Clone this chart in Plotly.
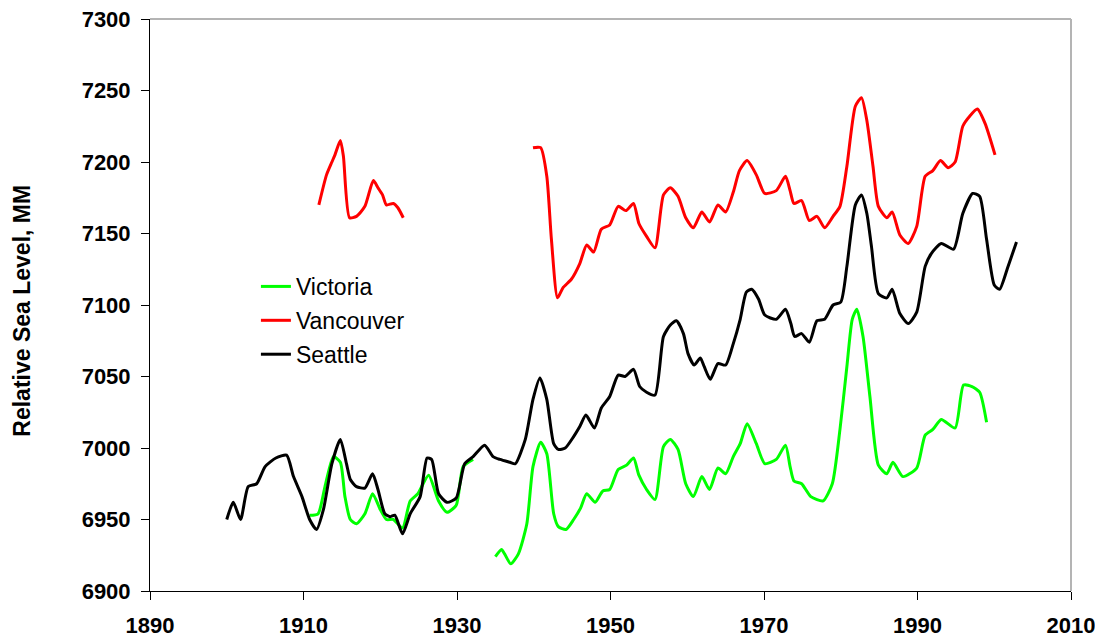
import plotly.graph_objects as go

# yearly smoothed relative sea level, mm
victoria_years = [1910.8, 1911.9, 1912.8, 1913.9, 1914.8, 1915.4, 1916.1, 1916.9, 1918.0, 1919.0,
                  1920.0, 1920.8, 1921.7, 1922.9, 1923.9, 1924.9, 1926.3, 1927.6, 1928.7, 1929.9,
                  1930.8, 1932.1, None,
                  1935.0, 1935.8, 1936.2, 1937.0, 1938.0, 1939.1, 1939.9, 1940.9, 1941.7, 1942.6,
                  1943.2, 1944.2, 1945.2, 1946.1, 1946.9, 1948.0, 1949.0, 1949.9, 1951.0, 1952.1,
                  1953.0, 1953.7, 1954.7, 1955.8, 1956.9, 1957.8, 1958.8, 1959.8, 1960.8, 1961.9,
                  1962.9, 1964.0, 1965.0, 1966.0, 1966.9, 1967.8, 1969.0, 1970.1, 1971.6, 1972.8,
                  1973.4, 1973.9, 1974.9, 1976.1, 1977.7, 1978.9, 1979.9, 1980.8, 1981.5, 1982.1,
                  1982.9, 1983.8, 1984.9, 1986.0, 1986.8, 1988.1, 1989.9, 1991.0, 1992.0, 1993.1,
                  1994.9, 1996.0, 1997.1, 1998.1, 1999.0]
victoria_mm = [6953, 6954, 6973, 6994, 6990, 6966, 6950, 6947, 6954, 6968,
               6957, 6950, 6950, 6944, 6963, 6968, 6981, 6963, 6955, 6960,
               6987, 6992, None,
               6924, 6929, 6926, 6919, 6926, 6947, 6987, 7004, 6996, 6954,
               6945, 6943, 6950, 6958, 6968, 6962, 6970, 6971, 6985, 6988,
               6993, 6981, 6971, 6964, 7001, 7006, 6999, 6975, 6966, 6980,
               6971, 6986, 6982, 6994, 7003, 7017, 7003, 6989, 6992, 7002,
               6987, 6977, 6975, 6966, 6963, 6975, 7013, 7057, 7090, 7097,
               7078, 7036, 6988, 6982, 6990, 6980, 6986, 7009, 7013, 7020,
               7014, 7044, 7043, 7039, 7018]

vancouver_years = [1912.0, 1913.0, 1913.7, 1914.1, 1914.8, 1915.2, 1916.0, 1916.9, 1918.0, 1919.1,
                   1919.7, 1920.3, 1920.8, 1921.7, 1922.3, 1923.0, None,
                   1939.9, 1940.9, 1941.7, 1942.3, 1943.1, 1943.8, 1944.9, 1946.0, 1946.9, 1947.8,
                   1948.8, 1949.9, 1951.0, 1952.0, 1953.0, 1953.7, 1954.7, 1955.8, 1956.9, 1957.8,
                   1958.8, 1959.8, 1960.8, 1961.9, 1962.9, 1964.0, 1965.0, 1966.0, 1966.8, 1967.8,
                   1969.0, 1970.1, 1971.6, 1972.8, 1973.4, 1973.9, 1974.9, 1975.9, 1976.9, 1977.9,
                   1979.0, 1979.9, 1980.8, 1981.9, 1982.7, 1983.4, 1984.2, 1984.9, 1986.0, 1986.7,
                   1987.7, 1988.8, 1989.9, 1991.0, 1992.0, 1993.0, 1994.0, 1994.9, 1995.9, 1996.8,
                   1997.8, 1998.8, 2000.1]
vancouver_mm = [7170, 7191, 7200, 7205, 7215, 7204, 7161, 7162, 7169, 7187,
                7182, 7177, 7170, 7171, 7168, 7161, None,
                7210, 7210, 7190, 7146, 7105, 7112, 7118, 7129, 7142, 7137,
                7153, 7156, 7169, 7166, 7171, 7157, 7148, 7140, 7177, 7182,
                7176, 7161, 7154, 7165, 7158, 7170, 7165, 7179, 7194, 7201,
                7191, 7178, 7180, 7190, 7180, 7171, 7173, 7159, 7162, 7154,
                7162, 7169, 7197, 7239, 7245, 7229, 7197, 7169, 7161, 7165,
                7149, 7143, 7155, 7190, 7194, 7201, 7196, 7200, 7225, 7232,
                7237, 7227, 7205]

seattle_years = [1900.0, 1900.85, 1901.8, 1902.8, 1903.9, 1905.0, 1906.4, 1907.8, 1908.7, 1909.8,
                 1910.8, 1911.7, 1912.6, 1913.7, 1914.8, 1915.6, 1916.1, 1916.9, 1918.0, 1919.0,
                 1919.7, 1920.6, 1921.3, 1921.9, 1922.9, 1923.9, 1925.2, 1926.1, 1926.7, 1927.6,
                 1928.7, 1929.9, 1931.0, 1932.1, 1933.6, 1934.7, 1935.6, 1936.9, 1937.6, 1938.9,
                 1939.9, 1940.8, 1941.7, 1942.6, 1943.2, 1944.1, 1945.2, 1946.0, 1946.8, 1947.9,
                 1948.8, 1949.9, 1951.0, 1951.9, 1953.0, 1953.8, 1954.7, 1955.8, 1956.9, 1957.8,
                 1958.6, 1959.5, 1960.1, 1960.9, 1961.7, 1962.2, 1963.0, 1964.0, 1965.0, 1966.0,
                 1966.9, 1967.7, 1968.4, 1969.3, 1970.1, 1971.6, 1972.8, 1973.5, 1974.0, 1974.9,
                 1975.9, 1976.9, 1977.9, 1979.0, 1980.0, 1980.8, 1981.9, 1982.7, 1983.4, 1984.0,
                 1984.9, 1986.0, 1986.7, 1987.7, 1988.8, 1989.9, 1991.0, 1991.8, 1993.1, 1994.7,
                 1995.9, 1997.2, 1998.1, 1999.0, 2000.0, 2000.7, 2001.8, 2002.9]
seattle_mm = [6950, 6962, 6950, 6973, 6975, 6987, 6993, 6995, 6980, 6966,
              6950, 6943, 6957, 6989, 7006, 6989, 6978, 6973, 6972, 6982,
              6971, 6954, 6952, 6953, 6940, 6954, 6966, 6993, 6992, 6968,
              6962, 6965, 6989, 6994, 7002, 6994, 6992, 6990, 6989, 7006,
              7034, 7049, 7034, 7003, 6999, 7000, 7008, 7015, 7023, 7014,
              7028, 7036, 7051, 7050, 7055, 7043, 7039, 7037, 7078, 7086,
              7089, 7080, 7066, 7058, 7063, 7057, 7048, 7059, 7058, 7073,
              7090, 7109, 7111, 7104, 7093, 7090, 7097, 7087, 7078, 7080,
              7074, 7089, 7090, 7100, 7102, 7127, 7170, 7177, 7164, 7141,
              7108, 7105, 7111, 7094, 7087, 7095, 7127, 7136, 7143, 7139,
              7164, 7178, 7176, 7146, 7114, 7111, 7127, 7144]

year_ticks = [1890, 1910, 1930, 1950, 1970, 1990, 2010]
level_ticks = [6900, 6950, 7000, 7050, 7100, 7150, 7200, 7250, 7300]

FONT = "Liberation Sans, Arial, sans-serif"

fig = go.Figure()
series = [
    ("Victoria", victoria_years, victoria_mm, "#00ff00"),
    ("Vancouver", vancouver_years, vancouver_mm, "#ff0000"),
    ("Seattle", seattle_years, seattle_mm, "#000000"),
]
for name, xs, ys, color in series:
    fig.add_scatter(
        x=xs, y=ys, name=name, mode="lines", legendgroup=name,
        line={"color": color, "width": 3, "shape": "spline", "smoothing": 0.6},
        connectgaps=False,
    )

axis_common = dict(
    showgrid=False, zeroline=False, showline=True, linecolor="black", linewidth=1,
    ticks="outside", ticklen=8, tickcolor="black", tickwidth=1,
    tickfont={"family": FONT, "size": 22, "color": "black", "weight": "bold"},
    automargin=False, ticklabeloverflow="allow",
)
fig.update_xaxes(range=[1890, 2010], tickvals=year_ticks, ticklabelstandoff=7, **axis_common)
fig.update_yaxes(range=[6900, 7300], tickvals=level_ticks, ticklabelstandoff=6, **axis_common)

# grey frame on top / right like the original
fig.add_shape(type="line", xref="paper", yref="paper", x0=0, x1=1, y0=1, y1=1,
              line={"color": "#b4b4b4", "width": 2}, layer="below")
fig.add_shape(type="line", xref="paper", yref="paper", x0=1, x1=1, y0=0, y1=1,
              line={"color": "#b4b4b4", "width": 2}, layer="below")

fig.add_annotation(
    text="Relative Sea Level, MM", textangle=-90, xref="paper", yref="paper",
    x=-0.139, y=0.49, xanchor="center", yanchor="middle", showarrow=False,
    font={"family": FONT, "size": 23, "color": "black", "weight": "bold"},
)

# page body adds 8px, so the figure is 8px smaller than the window
fig.update_layout(
    width=1095, height=631,
    margin={"l": 142, "r": 32, "t": 11, "b": 48},
    paper_bgcolor="white", plot_bgcolor="white",
    font={"family": FONT, "size": 22, "color": "black"},
    legend={"x": 0.115, "y": 0.57, "xanchor": "left", "yanchor": "top",
            "bgcolor": "rgba(0,0,0,0)", "tracegroupgap": 1,
            "font": {"family": FONT, "size": 23}},
)

fig.write_html("out.html")
